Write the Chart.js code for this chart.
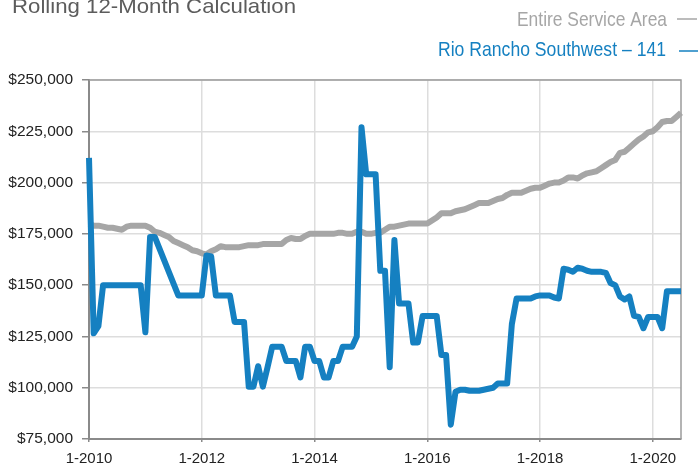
<!DOCTYPE html>
<html>
<head>
<meta charset="utf-8">
<script src="https://cdn.jsdelivr.net/npm/chart.js@4"></script>
<style>
  html, body { margin: 0; padding: 0; background: #fff; }
  #wrap { width: 699px; height: 466px; }
</style>
</head>
<body>
<div id="wrap"><canvas id="chart" width="699" height="466"></canvas></div>
<script>
// monthly categories 1-2010 .. 7-2020
const months = [];
for (let i = 0; i < 127; i++) months.push(`${(i % 12) + 1}-${2010 + Math.floor(i / 12)}`);

const xTickLabels = ['1-2010', '1-2012', '1-2014', '1-2016', '1-2018', '1-2020'];
const yTickValues = [75000, 100000, 125000, 150000, 175000, 200000, 225000, 250000];

const seriesNames = ['Rio Rancho Southwest \u2013 141', 'Entire Service Area'];

// Rio Rancho Southwest – 141
const southwest = [
    212000, 126500, 130000, 150000, 150000, 150000, 150000, 150000, 150000, 150000, 150000, 150000,
    127000, 173500, 173500, null, null, null, null, 145000, 145000, 145000, 145000, 145000,
    145000, 164500, 164000, 145000, 145000, 145000, 145000, 132000, 132000, 132000, 100500, 100500,
    110500, 100500, 110000, 120000, 120000, 120000, 113000, 113000, 113000, 105000, 120000, 120000,
    113000, 113000, 105000, 105000, 113000, 113000, 120000, 120000, 120000, 125000, 227000, 204000,
    204000, 204000, 157000, 157000, 110000, 172000, 141000, 141000, 141000, 122000, 122000, 135000,
    135000, 135000, 135000, 116000, 116000, 82000, 98000, 99000, 99000, 98500, 98500, 98500,
    99000, 99500, 100000, 102000, 102000, 102000, 131000, 143500, 143500, 143500, 143500, 144500,
    145000, 145000, 145000, 144000, 143500, 158000, 157500, 156500, 158500, 158000, 157000, 156500,
    156500, 156500, 156000, 151000, 150000, 144500, 143000, 144500, 135000, 134500, 129000, 134500,
    134500, 134500, 129000, 147000, 147000, 147000, 147000
];

// Entire Service Area
const serviceArea = [
    180000, 179000, 179000, 178500, 178000, 178000, 177500, 177000, 178500, 179000, 179000, 179000,
    179000, 178000, 176000, 175500, 174500, 173500, 171500, 170500, 169500, 168500, 167000, 166500,
    165500, 165000, 166500, 167500, 169000, 168500, 168500, 168500, 168500, 169000, 169500, 169500,
    169500, 170000, 170000, 170000, 170000, 170000, 172000, 173000, 172500, 172500, 174000, 175000,
    175000, 175000, 175000, 175000, 175000, 175500, 175500, 175000, 175000, 176000, 176000, 175000,
    175000, 175500, 175500, 177000, 178500, 178500, 179000, 179500, 180000, 180000, 180000, 180000,
    180000, 181500, 183000, 185000, 185000, 185000, 186000, 186500, 187000, 188000, 189000, 190000,
    190000, 190000, 191000, 192000, 192500, 194000, 195000, 195000, 195000, 196000, 197000, 197500,
    197500, 198500, 199500, 200000, 200000, 201000, 202500, 202500, 202000, 203500, 204500, 205000,
    205500, 207000, 208500, 210000, 211000, 214500, 215000, 217000, 219000, 221000, 222500, 224500,
    225000, 227000, 229500, 230000, 230000, 232000, 234000
];

const BLUE = '#1580c1';
const GREY = '#a6a6a6';

// squeeze a text run into a given width (the original uses a condensed face)
function fitText(ctx, text, x, y, w, align) {
    const m = ctx.measureText(text).width;
    ctx.save();
    const left = align === 'right' ? x - w : x;
    ctx.translate(left, y);
    ctx.scale(w / m, 1);
    ctx.textAlign = 'left';
    ctx.fillText(text, 0, 0);
    ctx.restore();
}

const headerPlugin = {
    id: 'header',
    beforeDatasetsDraw(chart) {
        // thin frame on top and right
        const { ctx, chartArea: a } = chart;
        ctx.save();
        ctx.strokeStyle = '#9c9c9c';
        ctx.lineWidth = 1.5;
        ctx.beginPath();
        ctx.moveTo(a.left, a.top);
        ctx.lineTo(a.right, a.top);
        ctx.lineTo(a.right, a.bottom);
        ctx.stroke();
        ctx.restore();
    },
    afterDraw(chart) {
        const ctx = chart.ctx;
        ctx.save();
        ctx.textBaseline = 'alphabetic';

        ctx.fillStyle = '#5c5c5c';
        ctx.font = '21px "Liberation Sans", Arial, sans-serif';
        fitText(ctx, 'Rolling 12-Month Calculation', 12, 13, 284, 'left');

        ctx.font = '21px "Liberation Sans", Arial, sans-serif';
        ctx.fillStyle = GREY;
        fitText(ctx, seriesNames[1], 667, 26, 150, 'right');
        ctx.fillStyle = BLUE;
        fitText(ctx, seriesNames[0], 666, 56, 228, 'right');

        ctx.lineWidth = 1.5;
        ctx.strokeStyle = GREY;
        ctx.beginPath(); ctx.moveTo(677, 19); ctx.lineTo(697, 19); ctx.stroke();
        ctx.strokeStyle = BLUE;
        ctx.beginPath(); ctx.moveTo(679, 51); ctx.lineTo(698, 51); ctx.stroke();
        ctx.restore();
    }
};

const isMajor = i => xTickLabels.includes(months[i]);

new Chart(document.getElementById('chart'), {
    type: 'line',
    data: {
        labels: months,
        datasets: [
            {
                label: seriesNames[0],
                data: southwest,
                borderColor: BLUE,
                borderWidth: 6,
                borderJoinStyle: 'round',
                pointRadius: 0,
                tension: 0,
                spanGaps: true,
            },
            {
                label: seriesNames[1],
                data: serviceArea,
                borderColor: GREY,
                borderWidth: 6,
                borderJoinStyle: 'round',
                pointRadius: 0,
                tension: 0,
            }
        ]
    },
    options: {
        responsive: false,
        animation: false,
        devicePixelRatio: 1,
        layout: { padding: { top: 80, right: 18, left: 0, bottom: 0 } },
        plugins: { legend: { display: false }, tooltip: { enabled: false } },
        scales: {
            x: {
                type: 'category',
                offset: false,
                afterFit: s => { s.height = 27; },
                border: { color: '#8a8a8a', width: 2 },
                grid: {
                    color: c => isMajor(c.index) ? '#dddddd' : 'rgba(0,0,0,0)',
                    tickColor: c => isMajor(c.index) ? '#8a8a8a' : 'rgba(0,0,0,0)',
                    lineWidth: 1.5,
                    tickLength: 3,
                },
                ticks: {
                    autoSkip: false,
                    maxRotation: 0,
                    padding: 8,
                    color: '#222',
                    font: { family: '"Liberation Sans", Arial, sans-serif', size: 15 },
                    callback: (v, i) => isMajor(i) ? months[i] : '',
                }
            },
            y: {
                min: yTickValues[0],
                max: yTickValues[yTickValues.length - 1],
                afterFit: s => { s.width = 89; },
                afterBuildTicks: s => { s.ticks = yTickValues.map(v => ({ value: v })); },
                border: { color: '#8a8a8a', width: 2 },
                grid: { color: '#dddddd', tickColor: '#8a8a8a', lineWidth: 1.5, tickLength: 7 },
                ticks: {
                    padding: 9,
                    color: '#222',
                    font: { family: '"Liberation Sans", Arial, sans-serif', size: 15.5 },
                    callback: v => '$' + v.toLocaleString('en-US'),
                }
            }
        }
    },
    plugins: [headerPlugin]
});
</script>
</body>
</html>
